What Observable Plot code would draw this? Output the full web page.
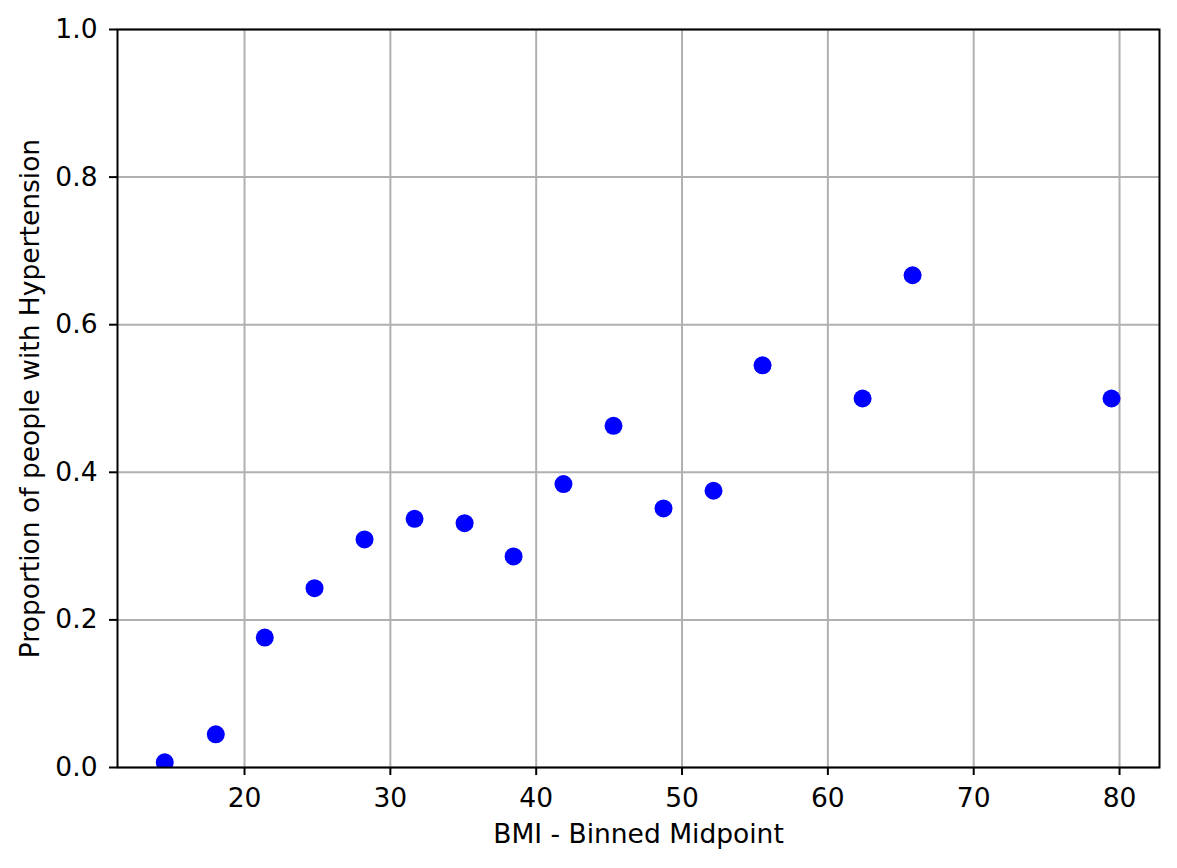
<!DOCTYPE html>
<html><head><meta charset="utf-8">
<script src="https://cdn.jsdelivr.net/npm/d3@7"></script>
<script src="https://cdn.jsdelivr.net/npm/@observablehq/plot@0.6"></script>
<style>body{margin:0;background:#fff}</style>
</head><body><div id="chart"></div>
<script>
const bmiMidpoints = [14.53, 18.03, 21.39, 24.80, 28.23, 31.66, 35.09, 38.45, 41.87, 45.30, 48.73, 52.16, 55.52, 62.38, 65.81, 79.45];
const hypertensionProportion = [0.007, 0.045, 0.176, 0.243, 0.309, 0.337, 0.331, 0.286, 0.384, 0.463, 0.351, 0.375, 0.545, 0.5, 0.667, 0.5];
const xTicks = [20, 30, 40, 50, 60, 70, 80];
const yTicks = [0, 0.2, 0.4, 0.6, 0.8, 1.0];
const xLabel = "BMI - Binned Midpoint";
const yLabel = "Proportion of people with Hypertension";

const data = bmiMidpoints.map((x, i) => ({x, y: hypertensionProportion[i]}));

const plot = Plot.plot({
  width: 1177, height: 868,
  marginLeft: 117, marginRight: 18, marginTop: 29, marginBottom: 101,
  style: {fontFamily: "DejaVu Sans", fontSize: "26.5px", background: "#fff", color: "#000", overflow: "visible"},
  x: {domain: [11.29, 82.74]},
  y: {domain: [0, 1]},
  marks: [
    Plot.gridX(xTicks, {stroke: "#b0b0b0", strokeOpacity: 1, strokeWidth: 2}),
    Plot.gridY(yTicks, {stroke: "#b0b0b0", strokeOpacity: 1, strokeWidth: 2}),
    Plot.dot(data, {x: "x", y: "y", r: 9, fill: "#0000ff", clip: true}),
    Plot.frame({stroke: "#000", strokeWidth: 2}),
    Plot.axisX(xTicks, {tickSize: 8, tickPadding: 13, strokeWidth: 2, tickFormat: d3.format("d"),
      label: xLabel, labelAnchor: "center", labelOffset: 75, labelArrow: "none"}),
    Plot.axisY(yTicks, {tickSize: 8, tickPadding: 12, strokeWidth: 2, tickFormat: d3.format(".1f"),
      label: yLabel, labelAnchor: "center", labelOffset: 97, labelArrow: "none"})
  ]
});
document.getElementById("chart").appendChild(plot);
</script>
</body></html>
